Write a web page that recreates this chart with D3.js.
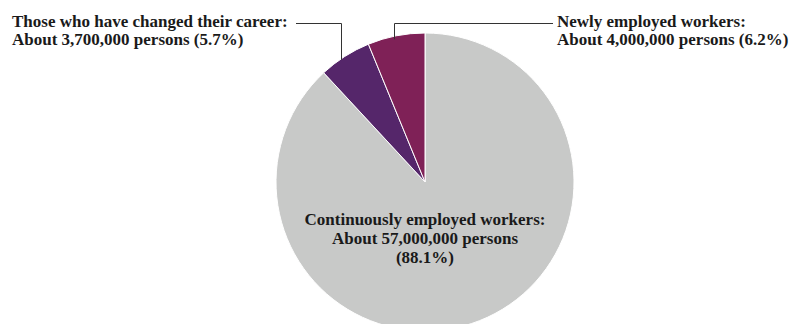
<!DOCTYPE html>
<html>
<head>
<meta charset="utf-8">
<script src="https://cdn.jsdelivr.net/npm/d3@7"></script>
<style>
  body { margin: 0; background: #fff; }
  text { font-family: "Liberation Serif", "DejaVu Serif", serif; font-weight: bold; fill: #1a1a1a; }
</style>
</head>
<body>
<svg id="visu" width="808" height="324"></svg>
<script>
// data, in drawing order (clockwise from 12 o'clock)
var groups = ["Continuously employed workers", "Those who have changed their career", "Newly employed workers"];
var persons = ["57,000,000", "3,700,000", "4,000,000"];
var shares = [88.1, 5.7, 6.2];
var colors = ["#c8c9c8", "#55266a", "#7f2157"];

var vis = d3.select("#visu"),
    CX = 425,
    CY = 182,
    R = 149;

var data = groups.map(function(g, i) {
  return { name: g, persons: persons[i], share: shares[i], color: colors[i] };
});

var pie = d3.pie()
  .sort(null)
  .value(function(d) { return d.share; });

var arc = d3.arc()
  .innerRadius(0)
  .outerRadius(R);

var arcs = pie(data);

var g = vis.append("g")
  .attr("transform", "translate(" + CX + "," + CY + ")");

g.selectAll("path")
  .data(arcs)
  .enter().append("path")
  .attr("d", arc)
  .attr("fill", function(d) { return d.data.color; })
  .attr("stroke", "#fff")
  .attr("stroke-width", 1);

// leader lines: from a point on the slice's outer edge up to the label row
var LINE_Y = 23;
function edgePoint(a) {
  // a in d3 pie angle (0 = up, clockwise)
  return [CX + R * Math.sin(a), CY - R * Math.cos(a)];
}

// career changers -> left label
var a1 = arcs[1].startAngle + (arcs[1].endAngle - arcs[1].startAngle) * 0.42;
var p1 = edgePoint(a1);
vis.append("path")
  .attr("d", "M" + Math.round(p1[0]) + ".5," + (p1[1] + 1) + "V" + LINE_Y + ".5H296")
  .attr("fill", "none")
  .attr("stroke", "#333")
  .attr("stroke-width", 1);

// newly employed -> right label
var a2 = arcs[2].startAngle + (arcs[2].endAngle - arcs[2].startAngle) * 0.46;
var p2 = edgePoint(a2);
vis.append("path")
  .attr("d", "M" + Math.round(p2[0]) + ".5," + (p2[1] + 3) + "V" + LINE_Y + ".5H553")
  .attr("fill", "none")
  .attr("stroke", "#333")
  .attr("stroke-width", 1);

// labels
var fs = 17, lh = 18;
var left = vis.append("text").attr("font-size", fs);
left.append("tspan").attr("x", 12).attr("y", 27)
  .text(data[1].name + ":");
left.append("tspan").attr("x", 12).attr("y", 27 + lh)
  .text("About " + data[1].persons + " persons (" + data[1].share + "%)");

var right = vis.append("text").attr("font-size", fs);
right.append("tspan").attr("x", 557).attr("y", 27)
  .text(data[2].name + ":");
right.append("tspan").attr("x", 557).attr("y", 27 + lh)
  .text("About " + data[2].persons + " persons (" + data[2].share + "%)");

var center = vis.append("text")
  .attr("font-size", fs)
  .attr("text-anchor", "middle");
center.append("tspan").attr("x", CX).attr("y", 225)
  .text(data[0].name + ":");
center.append("tspan").attr("x", CX).attr("y", 244)
  .text("About " + data[0].persons + " persons");
center.append("tspan").attr("x", CX).attr("y", 263)
  .text("(" + data[0].share + "%)");
</script>
</body>
</html>
